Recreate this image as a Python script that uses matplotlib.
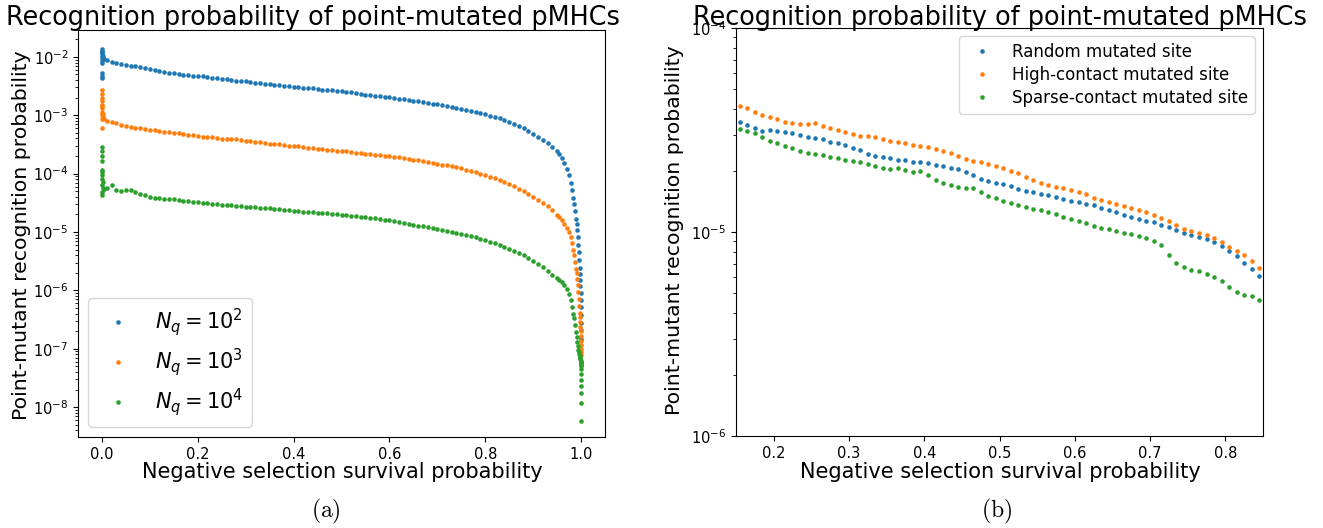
import numpy as np
import matplotlib
matplotlib.use('Agg')
from matplotlib import pyplot as plt

W, H = 1323, 528

# ---- panel (a): survival probability grid and log10 recognition probability ----
surv_near0 = [0.0, 0.0, 0.0, 0.0, 0.0, 0.0, 0.0, 0.0, 0.0, 0.0, 0.001, 0.002, 0.003, 0.005]
surv_main = [0.01, 0.02, 0.03, 0.04, 0.05, 0.06, 0.07, 0.08, 0.09, 0.10,
             0.11, 0.12, 0.13, 0.14, 0.15, 0.16, 0.17, 0.18, 0.19, 0.20,
             0.21, 0.22, 0.23, 0.24, 0.25, 0.26, 0.27, 0.28, 0.29, 0.30,
             0.31, 0.32, 0.33, 0.34, 0.35, 0.36, 0.37, 0.38, 0.39, 0.40,
             0.41, 0.42, 0.43, 0.44, 0.45, 0.46, 0.47, 0.48, 0.49, 0.50,
             0.51, 0.52, 0.53, 0.54, 0.55, 0.56, 0.57, 0.58, 0.59, 0.60,
             0.61, 0.62, 0.63, 0.64, 0.65, 0.66, 0.67, 0.68, 0.69, 0.70,
             0.71, 0.72, 0.73, 0.74, 0.75, 0.76, 0.77, 0.78, 0.79, 0.80,
             0.81, 0.82, 0.83, 0.84, 0.85, 0.86, 0.87, 0.88, 0.89, 0.90,
             0.91, 0.92, 0.93, 0.94, 0.95]
surv_tail = [0.955, 0.96, 0.965, 0.97, 0.974, 0.978, 0.981, 0.984, 0.986, 0.988,
             0.990, 0.991, 0.992, 0.993, 0.994, 0.995, 0.996, 0.997, 0.9975, 0.998,
             0.9985, 0.999, 0.9993, 0.9995, 0.9997, 0.9998, 0.9999, 1.0]

nq2_near0 = [-2.36, -2.33, -2.27, -2.11, -2.07, -2.02, -1.98, -1.94, -1.90, -1.86, -1.93, -1.99, -2.02, -2.04]
nq2_main = [-2.06, -2.08, -2.10, -2.12, -2.14, -2.15, -2.165, -2.18, -2.195, -2.21,
            -2.225, -2.24, -2.255, -2.27, -2.28, -2.29, -2.305, -2.315, -2.325, -2.33,
            -2.335, -2.34, -2.355, -2.365, -2.375, -2.385, -2.395, -2.405, -2.41, -2.42,
            -2.43, -2.44, -2.45, -2.46, -2.47, -2.48, -2.49, -2.495, -2.50, -2.51,
            -2.515, -2.525, -2.53, -2.54, -2.55, -2.56, -2.565, -2.575, -2.585, -2.59,
            -2.60, -2.61, -2.62, -2.63, -2.645, -2.655, -2.665, -2.675, -2.685, -2.695,
            -2.705, -2.715, -2.725, -2.735, -2.75, -2.76, -2.775, -2.79, -2.80, -2.815,
            -2.83, -2.845, -2.86, -2.875, -2.89, -2.905, -2.925, -2.945, -2.965, -2.985,
            -3.005, -3.03, -3.055, -3.085, -3.115, -3.15, -3.185, -3.225, -3.27, -3.32,
            -3.37, -3.42, -3.47, -3.54, -3.62]
nq2_tail = [-3.67, -3.74, -3.82, -3.92, -4.03, -4.16, -4.28, -4.41, -4.52, -4.64,
            -4.78, -4.87, -4.97, -5.09, -5.22, -5.35, -5.48, -5.62, -5.72, -5.82,
            -5.93, -6.05, -6.17, -6.29, -6.42, -6.55, -6.68, -6.83]

nq3_near0 = [-3.22, -3.06, -3.00, -2.94, -2.88, -2.82, -2.76, -2.70, -2.63, -2.57, -2.85, -2.97, -3.03, -3.06]
nq3_main = [-3.09, -3.115, -3.14, -3.16, -3.18, -3.195, -3.21, -3.22, -3.235, -3.245,
            -3.255, -3.27, -3.28, -3.29, -3.30, -3.31, -3.325, -3.335, -3.345, -3.355,
            -3.365, -3.37, -3.38, -3.39, -3.40, -3.405, -3.41, -3.415, -3.425, -3.435,
            -3.445, -3.455, -3.465, -3.475, -3.485, -3.49, -3.50, -3.51, -3.52, -3.53,
            -3.535, -3.545, -3.555, -3.56, -3.57, -3.58, -3.59, -3.595, -3.605, -3.61,
            -3.62, -3.63, -3.64, -3.645, -3.655, -3.665, -3.675, -3.685, -3.69, -3.70,
            -3.71, -3.72, -3.735, -3.745, -3.76, -3.77, -3.785, -3.80, -3.815, -3.83,
            -3.845, -3.86, -3.875, -3.89, -3.91, -3.93, -3.95, -3.975, -4.00, -4.025,
            -4.05, -4.08, -4.11, -4.14, -4.18, -4.22, -4.26, -4.30, -4.35, -4.40,
            -4.45, -4.50, -4.56, -4.63, -4.70]
nq3_tail = [-4.75, -4.80, -4.86, -4.93, -5.00, -5.09, -5.19, -5.30, -5.40, -5.52,
            -5.64, -5.71, -5.80, -5.90, -6.02, -6.14, -6.26, -6.38, -6.46, -6.54,
            -6.62, -6.70, -6.78, -6.86, -6.94, -7.00, -7.06, -7.11]

nq4_near0 = [-4.36, -4.31, -4.19, -4.10, -4.02, -3.93, -3.78, -3.70, -3.62, -3.55, -3.98, -4.15, -4.25, -4.27]
nq4_main = [-4.24, -4.20, -4.28, -4.30, -4.28, -4.285, -4.31, -4.34, -4.37, -4.40,
            -4.41, -4.42, -4.43, -4.435, -4.44, -4.45, -4.46, -4.47, -4.48, -4.49,
            -4.50, -4.51, -4.515, -4.52, -4.53, -4.54, -4.545, -4.555, -4.56, -4.565,
            -4.57, -4.575, -4.58, -4.59, -4.595, -4.60, -4.61, -4.62, -4.63, -4.64,
            -4.645, -4.655, -4.66, -4.665, -4.67, -4.675, -4.68, -4.69, -4.695, -4.70,
            -4.71, -4.72, -4.73, -4.735, -4.745, -4.755, -4.765, -4.775, -4.79, -4.80,
            -4.815, -4.83, -4.845, -4.86, -4.875, -4.89, -4.905, -4.92, -4.935, -4.95,
            -4.965, -4.98, -4.995, -5.01, -5.03, -5.05, -5.07, -5.09, -5.115, -5.14,
            -5.165, -5.195, -5.225, -5.255, -5.29, -5.325, -5.36, -5.40, -5.44, -5.49,
            -5.545, -5.60, -5.67, -5.73, -5.79]
nq4_tail = [-5.82, -5.86, -5.91, -5.97, -6.06, -6.17, -6.28, -6.40, -6.48, -6.60,
            -6.72, -6.80, -6.88, -6.96, -7.02, -7.06, -7.09, -7.12, -7.14, -7.16,
            -7.18, -7.20, -7.22, -7.24, -7.26, -7.28, -7.30, -7.34]
nq4_end_x = [1.0, 1.0, 1.0, 1.0, 1.0, 1.0]
nq4_end = [-7.43, -7.53, -7.63, -7.76, -7.93, -8.23]

# ---- panel (b): mutated-site comparison ----
surv_b = [0.155, 0.165, 0.175, 0.185, 0.195, 0.205, 0.215, 0.225, 0.235, 0.245,
          0.255, 0.265, 0.275, 0.285, 0.295, 0.305, 0.315, 0.325, 0.335, 0.345,
          0.355, 0.365, 0.375, 0.385, 0.395, 0.405, 0.415, 0.425, 0.435, 0.445,
          0.455, 0.465, 0.475, 0.485, 0.495, 0.505, 0.515, 0.525, 0.535, 0.545,
          0.555, 0.565, 0.575, 0.585, 0.595, 0.605, 0.615, 0.625, 0.635, 0.645,
          0.655, 0.665, 0.675, 0.685, 0.695, 0.705, 0.715, 0.725, 0.735, 0.745,
          0.755, 0.765, 0.775, 0.785, 0.795, 0.805, 0.815, 0.825, 0.835, 0.845]
random_site = [-4.460, -4.477, -4.492, -4.503, -4.498, -4.505, -4.508, -4.515, -4.525, -4.533,
               -4.537, -4.545, -4.560, -4.566, -4.575, -4.588, -4.600, -4.618, -4.627, -4.634,
               -4.636, -4.648, -4.648, -4.655, -4.656, -4.663, -4.670, -4.676, -4.684, -4.692,
               -4.706, -4.720, -4.738, -4.751, -4.760, -4.767, -4.774, -4.787, -4.797, -4.806,
               -4.815, -4.820, -4.826, -4.836, -4.848, -4.855, -4.863, -4.870, -4.882, -4.893,
               -4.904, -4.915, -4.926, -4.937, -4.945, -4.953, -4.964, -4.977, -4.991, -5.003,
               -5.014, -5.025, -5.035, -5.050, -5.070, -5.095, -5.120, -5.150, -5.180, -5.215]
high_contact = [-4.383, -4.393, -4.410, -4.426, -4.434, -4.446, -4.460, -4.464, -4.471, -4.470,
                -4.465, -4.478, -4.490, -4.500, -4.510, -4.520, -4.529, -4.530, -4.535, -4.545,
                -4.553, -4.559, -4.566, -4.573, -4.577, -4.584, -4.592, -4.601, -4.614, -4.627,
                -4.640, -4.652, -4.655, -4.666, -4.677, -4.688, -4.700, -4.711, -4.730, -4.747,
                -4.758, -4.769, -4.777, -4.784, -4.793, -4.804, -4.816, -4.831, -4.845, -4.854,
                -4.863, -4.872, -4.881, -4.891, -4.902, -4.915, -4.929, -4.945, -4.966, -4.987,
                -4.995, -5.004, -5.016, -5.031, -5.050, -5.072, -5.095, -5.113, -5.140, -5.178]
sparse_contact = [-4.495, -4.503, -4.513, -4.535, -4.556, -4.564, -4.580, -4.590, -4.602, -4.615,
                  -4.619, -4.623, -4.632, -4.638, -4.645, -4.652, -4.658, -4.666, -4.677, -4.688,
                  -4.692, -4.686, -4.697, -4.704, -4.700, -4.722, -4.746, -4.758, -4.770, -4.779,
                  -4.783, -4.786, -4.806, -4.822, -4.834, -4.846, -4.857, -4.868, -4.878, -4.885,
                  -4.892, -4.900, -4.913, -4.928, -4.937, -4.945, -4.955, -4.970, -4.982, -4.983,
                  -4.994, -5.004, -5.012, -5.020, -5.031, -5.046, -5.065, -5.115, -5.150, -5.173,
                  -5.187, -5.190, -5.205, -5.222, -5.241, -5.270, -5.293, -5.309, -5.314, -5.335]

title = 'Recognition probability of point-mutated pMHCs'
xlab = 'Negative selection survival probability'
ylab = 'Point-mutant recognition probability'


def fx(px):
    return px / W


def fy(py):
    return 1 - py / H


fig = plt.figure(figsize=(W / 100, H / 100), dpi=100)
ax1 = fig.add_axes([fx(78), fy(437), fx(605) - fx(78), fy(30) - fy(437)])
ax2 = fig.add_axes([fx(736), fy(436), fx(1263) - fx(736), fy(28) - fy(436)])

dot = dict(linestyle='none', marker='o', markersize=3.3, markeredgewidth=0)

# panel (a)
series_a = [(nq2_near0, nq2_main, nq2_tail, r'$N_q = 10^2$', 'C0'),
            (nq3_near0, nq3_main, nq3_tail, r'$N_q = 10^3$', 'C1'),
            (nq4_near0, nq4_main, nq4_tail, r'$N_q = 10^4$', 'C2')]
for near0, main, tail, lab, col in series_a:
    xs = surv_near0 + surv_main + surv_tail
    ys = 10 ** np.array(near0 + main + tail)
    ax1.plot(xs, ys, color=col, label=lab, **dot)
ax1.plot(nq4_end_x, 10 ** np.array(nq4_end), color='C2', **dot)

ax1.set_yscale('log')
ax1.set_xlim(-0.05, 1.05)
ax1.set_ylim(10 ** -8.51, 10 ** -1.54)
ax1.tick_params(labelsize=10.5)
ax1.legend(loc='lower left', fontsize=15, labelspacing=0.38)

# panel (b)
ax2.plot(surv_b, 10 ** np.array(random_site), color='C0', label='Random mutated site', **dot)
ax2.plot(surv_b, 10 ** np.array(high_contact), color='C1', label='High-contact mutated site', **dot)
ax2.plot(surv_b, 10 ** np.array(sparse_contact), color='C2', label='Sparse-contact mutated site', **dot)
ax2.set_yscale('log')
ax2.set_xlim(0.15, 0.85)
ax2.set_ylim(1e-6, 1e-4)
ax2.tick_params(labelsize=10.5)
ax2.legend(loc='upper right', fontsize=12, labelspacing=0.3)

# titles, axis labels and sub-captions
fig.text(fx(313), fy(25), title, ha='center', va='baseline', fontsize=18.4)
fig.text(fx(1000), fy(25), title, ha='center', va='baseline', fontsize=18.4)
fig.text(fx(342), fy(478), xlab, ha='center', va='baseline', fontsize=15)
fig.text(fx(1000), fy(478), xlab, ha='center', va='baseline', fontsize=15)
fig.text(fx(22), fy(235), ylab, ha='center', va='center', rotation=90, fontsize=14.7)
fig.text(fx(675), fy(230), ylab, ha='center', va='center', rotation=90, fontsize=14.7)
fig.text(fx(326), fy(511), r'$\mathrm{(a)}$', ha='center', va='center', fontsize=17, math_fontfamily='cm')
fig.text(fx(997), fy(511), r'$\mathrm{(b)}$', ha='center', va='center', fontsize=17, math_fontfamily='cm')

fig.savefig('out.png', dpi=100)
